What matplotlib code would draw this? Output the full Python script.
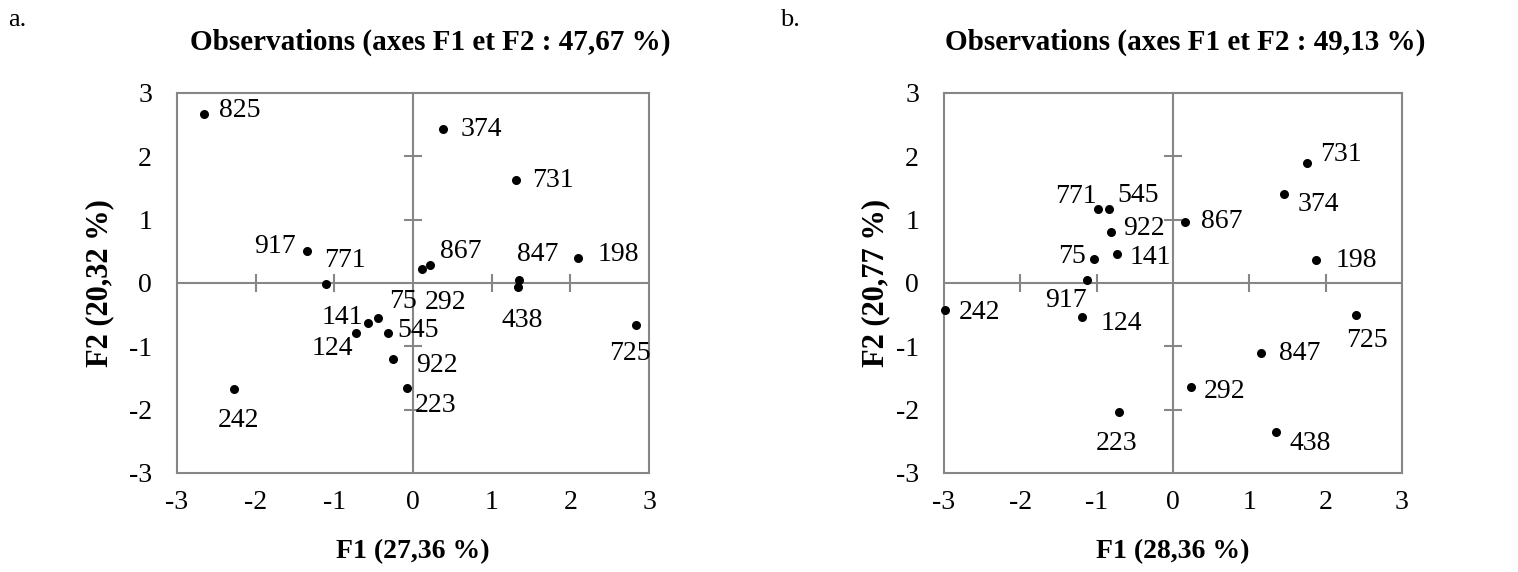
import matplotlib
matplotlib.use("Agg")
import matplotlib.pyplot as plt

plt.rcParams['font.family'] = ['Liberation Serif', 'DejaVu Serif']
plt.rcParams['axes.unicode_minus'] = False

# panel a
names_a = ['825', '374', '731', '917', '771', '867', '292', '847', '438', '198',
           '725', '75', '141', '124', '545', '922', '223', '242']
f1_a = [-2.66, 0.38, 1.31, -1.35, -1.11, 0.22, 0.12, 1.35, 1.33, 2.10,
        2.84, -0.45, -0.57, -0.72, -0.32, -0.25, -0.08, -2.27]
f2_a = [2.67, 2.43, 1.62, 0.50, -0.02, 0.29, 0.22, 0.05, -0.07, 0.39,
        -0.67, -0.55, -0.63, -0.79, -0.79, -1.20, -1.66, -1.68]

# panel b
names_b = ['731', '374', '198', '725', '847', '292', '438', '867', '771', '545',
           '922', '141', '75', '917', '124', '242', '223']
f1_b = [1.76, 1.45, 1.87, 2.40, 1.15, 0.24, 1.35, 0.16, -0.98, -0.84,
        -0.81, -0.73, -1.03, -1.13, -1.19, -2.99, -0.71]
f2_b = [1.89, 1.41, 0.37, -0.50, -1.11, -1.64, -2.35, 0.97, 1.17, 1.17,
        0.81, 0.46, 0.38, 0.04, -0.54, -0.42, -2.04]

titles = ['Observations (axes F1 et F2 : 47,67 %)', 'Observations (axes F1 et F2 : 49,13 %)']
xlabels = ['F1 (27,36 %)', 'F1 (28,36 %)']
ylabels = ['F2 (20,32 %)', 'F2 (20,77 %)']
ticks = [-3, -2, -1, 0, 1, 2, 3]

# label placement: (ha, dx px, dy px)
place_a = {'825': ('left', 15, 3), '374': ('left', 18, 0), '731': ('left', 16, 0),
           '917': ('right', -11, 5), '771': ('left', -2, 24), '867': ('left', 10, 13),
           '292': ('left', 2, -33), '75': ('left', 12, 16), '141': ('right', -5, 5),
           '124': ('right', -3, -15), '545': ('left', 9, 3), '922': ('left', 23, -7),
           '223': ('left', 8, -17), '242': ('center', 4, -31), '725': ('center', -6, -28),
           '438': ('center', 5, -33), '847': ('center', 18, 25), '198': ('left', 19, 4)}
place_b = {'731': ('left', 13, 9), '374': ('left', 14, -11), '198': ('left', 20, -1),
           '725': ('center', 11, -26), '847': ('left', 18, 0), '292': ('left', 12, -5),
           '438': ('left', 13, -12), '867': ('left', 16, 0), '771': ('right', -1, 12),
           '545': ('left', 8, 13), '922': ('left', 12, 3), '141': ('left', 12, -4),
           '75': ('right', -9, 2), '917': ('right', 0, -20), '124': ('left', 18, -6),
           '242': ('left', 14, -3), '223': ('center', -2, -31)}

grey = '#868686'
W, H = 1518, 572
fig = plt.figure(figsize=(W / 100, H / 100), dpi=100)

rects = [[177 / W, 1 - 473 / H, 472 / W, 380 / H],
         [944 / W, 1 - 473 / H, 458 / W, 380 / H]]
panels = [(names_a, f1_a, f2_a, place_a), (names_b, f1_b, f2_b, place_b)]
ylab_x = [100, 876]

for i, (names, xs, ys, place) in enumerate(panels):
    ax = fig.add_axes(rects[i])
    ax.set_xlim(-3, 3)
    ax.set_ylim(-3, 3)
    for s in ax.spines.values():
        s.set_color(grey)
        s.set_linewidth(1.5)
    ax.set_xticks(ticks)
    ax.set_yticks(ticks)
    ax.tick_params(length=0, labelsize=20, pad=12)
    ax.tick_params(axis='y', pad=18)
    # centre axes with cross ticks
    ax.axhline(0, color=grey, lw=1.5, zorder=1)
    ax.axvline(0, color=grey, lw=1.5, zorder=1)
    inner = [-2, -1, 1, 2]
    ax.plot(inner, [0] * 4, ls='none', marker='|', ms=13, mew=1.5, color=grey, zorder=1)
    ax.plot([0] * 4, inner, ls='none', marker='_', ms=13, mew=1.5, color=grey, zorder=1)

    ax.scatter(xs, ys, s=30, color='black', zorder=3, clip_on=False)
    for n, x, y in zip(names, xs, ys):
        ha, dx, dy = place[n]
        ax.annotate(n, (x, y), xytext=(dx * 0.72, dy * 0.72), textcoords='offset points',
                    ha=ha, va='center', fontsize=20, annotation_clip=False)

    ax.set_xlabel(xlabels[i], fontsize=20, fontweight='bold', va='center')
    ax.xaxis.set_label_coords(0.5, (473 - 552) / 380)
    ax.set_ylabel(ylabels[i], fontsize=22, fontweight='bold', va='center')
    ax.yaxis.set_label_coords((ylab_x[i] - rects[i][0] * W) / (rects[i][2] * W), 0.5)

fig.text(430 / W, 1 - 42 / H, titles[0], ha='center', va='center', fontsize=21, fontweight='bold')
fig.text(1185 / W, 1 - 42 / H, titles[1], ha='center', va='center', fontsize=21, fontweight='bold')
fig.text(8 / W, 1 - 20 / H, 'a.', ha='left', va='center', fontsize=19)
fig.text(780 / W, 1 - 20 / H, 'b.', ha='left', va='center', fontsize=19)

fig.savefig('out.png', dpi=100)
